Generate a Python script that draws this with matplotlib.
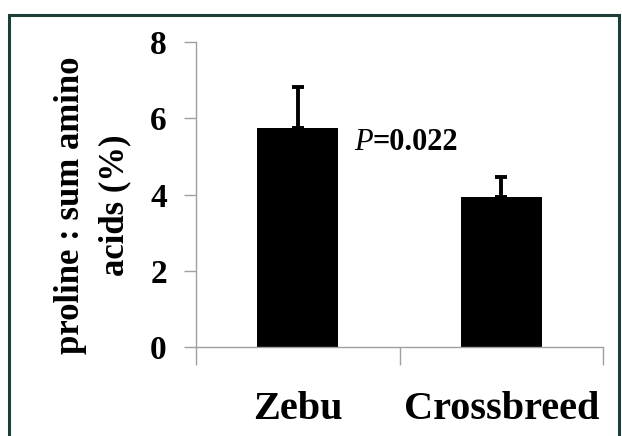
import matplotlib
matplotlib.use("Agg")
import matplotlib.pyplot as plt
from matplotlib.patches import Rectangle

# data
groups = ["Zebu", "Crossbreed"]
means = [5.75, 3.93]
errs = [1.08, 0.54]
yticks = [0, 2, 4, 6, 8]
p_label = "=0.022"

plt.rcParams['font.family'] = ['Liberation Serif', 'DejaVu Serif']
plt.rcParams['font.weight'] = 'bold'

fig = plt.figure(figsize=(6.22, 4.36), dpi=100)
ax = fig.add_axes([196 / 622, 1 - 347 / 436, 407 / 622, 305 / 436])

# cadre autour de la figure
fig.patches.append(Rectangle((9 / 622, -0.05), 610 / 622, 1 - 15 / 436 + 0.05,
                             transform=fig.transFigure, fill=False,
                             edgecolor='#1e3d38', linewidth=2.2))

x = range(len(groups))
ax.bar(x, means, width=0.4, color='black',
       yerr=[[0] * len(errs), errs], capsize=4,
       error_kw=dict(ecolor='black', elinewidth=2.8, capthick=2.8))

ax.set_xlim(-0.5, 1.5)
ax.set_ylim(0, 8)

for s in ['top', 'right']:
    ax.spines[s].set_visible(False)
for s in ['left', 'bottom']:
    ax.spines[s].set_color('#a0a0a0')
    ax.spines[s].set_linewidth(1)

ax.set_yticks(yticks)
ax.set_yticklabels([str(v) for v in yticks], fontsize=24, fontweight='bold')
ax.tick_params(axis='y', direction='out', length=9, width=1, color='#a0a0a0', pad=12)

ax.set_xticks(list(x))
ax.set_xticklabels(groups, fontsize=29, fontweight='bold')
ax.tick_params(axis='x', which='major', length=0, pad=32)
ax.set_xticks([-0.5, 0.5, 1.5], minor=True)
ax.tick_params(axis='x', which='minor', direction='out', length=13, width=1, color='#a0a0a0')

ax.set_ylabel("proline : sum amino\nacids (%)", fontsize=25, fontweight='bold',
              linespacing=1.45)
ax.yaxis.set_label_coords(-0.16, 0.466)

t1 = ax.text(0.275, 5.36, "P", fontsize=22, style='italic', fontweight='normal', va='center')
ax.annotate(p_label, xy=(1, 0), xycoords=t1, va='bottom', fontsize=22, fontweight='bold')

fig.savefig("out.png", dpi=100)
